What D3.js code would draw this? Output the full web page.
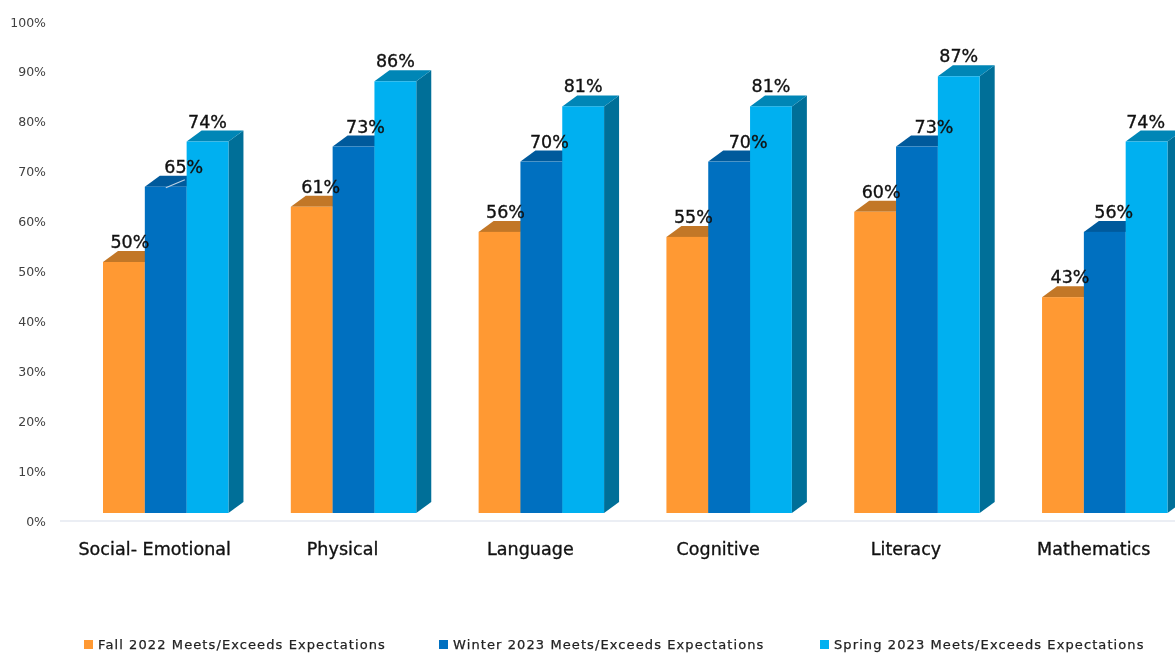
<!DOCTYPE html>
<html>
<head>
<meta charset="utf-8">
<script src="https://cdn.jsdelivr.net/npm/d3@7"></script>
<style>
  html, body { margin: 0; padding: 0; background: #fff; overflow: hidden; }
  svg { display: block; filter: blur(0.6px); font-family: "DejaVu Sans", sans-serif; }
</style>
</head>
<body>
<div id="chart"></div>
<script>
const categories = ['Social- Emotional', 'Physical', 'Language', 'Cognitive', 'Literacy', 'Mathematics'];
const seriesNames = [
  'Fall 2022 Meets/Exceeds Expectations',
  'Winter 2023 Meets/Exceeds Expectations',
  'Spring 2023 Meets/Exceeds Expectations'
];
const fall = [50, 61, 56, 55, 60, 43];
const winter = [65, 73, 70, 70, 73, 56];
const spring = [74, 86, 81, 81, 87, 74];
const yTicks = [0, 10, 20, 30, 40, 50, 60, 70, 80, 90, 100];

const width = 1175, height = 654;
const depthX = 15, depthY = 11; // 3d offset of the bars

const colors = [
  { front: '#FF9933', top: '#C27727', side: '#B56E22' },
  { front: '#0070C0', top: '#005A9C', side: '#004F88' },
  { front: '#00B0F0', top: '#0086B6', side: '#006F98' }
];
const values = [fall, winter, spring];

const svg = d3.select('#chart').append('svg')
  .attr('width', width)
  .attr('height', height)
  .attr('viewBox', [0, 0, width, height]);

const x0 = d3.scaleBand().domain(categories).range([103, 1167.5]).paddingInner(0.332).paddingOuter(0);
const x1 = d3.scaleBand().domain(d3.range(3)).range([0, x0.bandwidth()]);
const y = d3.scaleLinear().domain([0, 100]).range([513, 11]);     // bars stand on the 3d floor
const yAxisScale = d3.scaleLinear().domain([0, 100]).range([521, 22]);

// axis
const yAxis = svg.append('g')
  .attr('transform', 'translate(46,0)')
  .call(d3.axisLeft(yAxisScale).tickValues(yTicks).tickFormat(d => d + '%').tickSize(0).tickPadding(0));
yAxis.select('.domain').remove();
yAxis.selectAll('text')
  .attr('font-family', '"DejaVu Sans", sans-serif')
  .attr('font-size', 12.5)
  .attr('fill', '#404040');

svg.append('line')
  .attr('x1', 60).attr('x2', width)
  .attr('y1', yAxisScale(0)).attr('y2', yAxisScale(0))
  .attr('stroke', '#E4E9F0')
  .attr('stroke-width', 1.5);

// bars, back to front within each group
categories.forEach((cat, i) => {
  const g = svg.append('g').attr('transform', `translate(${x0(cat)},0)`);
  values.forEach((vals, s) => {
    const bx = x1(s), bw = x1.bandwidth();
    const top = y(vals[i]), base = y(0);
    const c = colors[s];
    g.append('path')
      .attr('fill', c.side)
      .attr('d', d3.line()([[bx + bw, top], [bx + bw + depthX, top - depthY], [bx + bw + depthX, base - depthY], [bx + bw, base]]));
    g.append('path')
      .attr('fill', c.top)
      .attr('d', d3.line()([[bx, top], [bx + depthX, top - depthY], [bx + bw + depthX, top - depthY], [bx + bw, top]]));
    g.append('rect')
      .attr('x', bx).attr('y', top)
      .attr('width', bw).attr('height', base - top)
      .attr('fill', c.front);
  });
});

// leader line of the first winter label
const leaderX = x0(categories[0]) + x1(1);
svg.append('line')
  .attr('x1', leaderX + 21).attr('x2', leaderX + 40)
  .attr('y1', y(winter[0]) + 1).attr('y2', y(winter[0]) - 7)
  .attr('stroke', '#BBD2E6')
  .attr('stroke-width', 1.2);

// data labels sit off-centre in the reference, per bar nudges in px
const labelNudge = [
  [6, 9, 6, 6, 6, 7],
  [18, 12, 8, 19, 17, 9],
  [0, 0, 0, 0, 0, -1]
];
values.forEach((vals, s) => {
  svg.append('g').selectAll('text')
    .data(vals)
    .join('text')
    .attr('x', (d, i) => x0(categories[i]) + x1(s) + x1.bandwidth() / 2 + labelNudge[s][i])
    .attr('y', d => y(d) - 14)
    .attr('text-anchor', 'middle')
    .attr('font-size', 17.5)
    .attr('fill', '#111')
    .attr('stroke', '#111')
    .attr('stroke-width', 0.35)
    .text(d => d + '%');
});

// category labels
svg.append('g').selectAll('text')
  .data(categories)
  .join('text')
  .attr('x', d => x0(d) + x0.bandwidth() / 2 - 11)
  .attr('y', 555)
  .attr('text-anchor', 'middle')
  .attr('font-size', 17.5)
  .attr('letter-spacing', 0.05)
  .attr('fill', '#111')
  .attr('stroke', '#111')
  .attr('stroke-width', 0.35)
  .text(d => d);

// legend
const legendX = d3.scaleOrdinal().domain(seriesNames).range([84, 439, 820]);
const legend = svg.append('g').selectAll('g')
  .data(seriesNames)
  .join('g')
  .attr('transform', d => `translate(${legendX(d)},0)`);
legend.append('rect')
  .attr('y', 640).attr('width', 9).attr('height', 9)
  .attr('fill', (d, i) => colors[i].front);
legend.append('text')
  .attr('x', 14).attr('y', 649)
  .attr('font-size', 13)
  .attr('letter-spacing', 1.1)
  .attr('fill', '#222')
  .attr('stroke', '#222')
  .attr('stroke-width', 0.25)
  .text(d => d);
</script>
</body>
</html>
